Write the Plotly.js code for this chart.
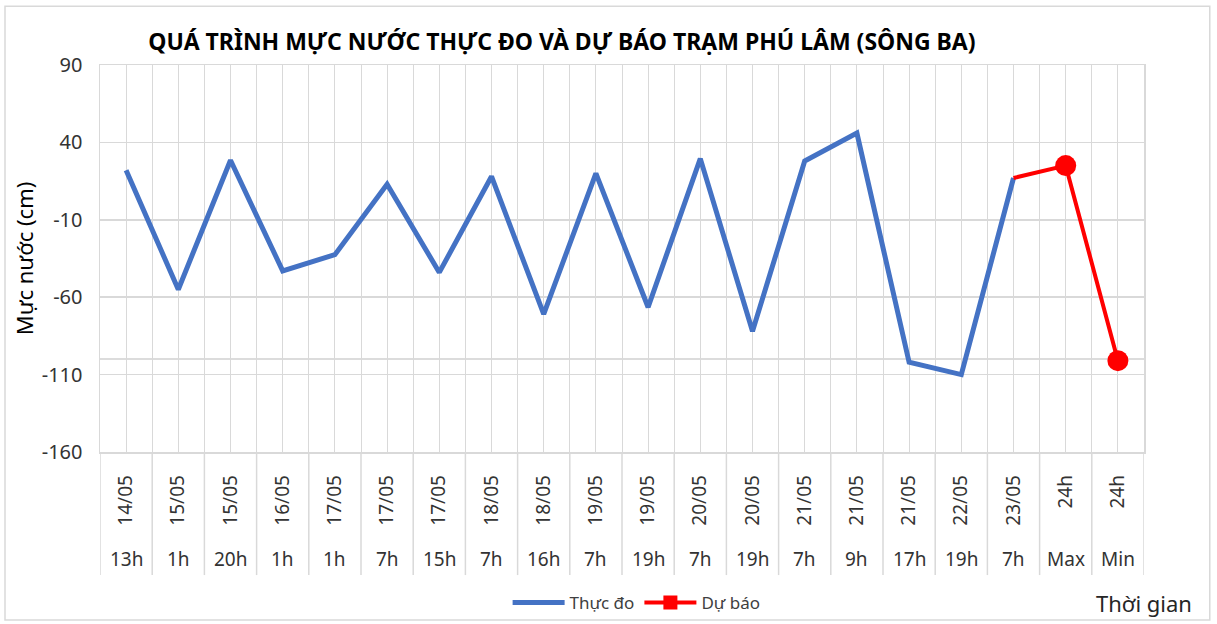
<!DOCTYPE html>
<html><head><meta charset="utf-8">
<script src="https://cdn.plot.ly/plotly-3.0.1.min.js"></script>
<style>html,body{margin:0;padding:0;background:#fff}</style>
</head><body><div id="chart" style="width:1217px;height:624px"></div>
<script>
const dates = ['14/05','15/05','15/05','16/05','17/05','17/05','17/05','18/05','18/05','19/05','19/05','20/05','20/05','21/05','21/05','21/05','22/05','23/05','24h','24h'];
const hours = ['13h','1h','20h','1h','1h','7h','15h','7h','16h','7h','19h','7h','19h','7h','9h','17h','19h','7h','Max','Min'];
const measured = [22,-55,28.5,-43,-32.5,13,-44,18,-71,20,-66.5,29.5,-82,28,46,-102,-110,17];
const forecast = [17,25,-101];
const yTicks = [-160,-110,-60,-10,40,90];
const alarmLevel = -100;

const FONT = 'Noto Sans, Open Sans, sans-serif';
const n = dates.length;
const idx = dates.map((_, i) => i);
const fStart = n - forecast.length;

const traces = [
  {x: measured.map((_, i) => i), y: measured, type: 'scatter', mode: 'lines', name: 'Thực đo',
   line: {color: '#4472C4', width: 5}},
  {x: forecast.map((_, i) => fStart + i), y: forecast, type: 'scatter', mode: 'lines+markers', name: 'Dự báo',
   line: {color: '#FF0000', width: 4},
   marker: {color: '#FF0000', opacity: 1, size: [0, 21, 21], symbol: ['square', 'circle', 'circle'],
     line: {width: 0}}}
];

const shapes = [];
for (let i = 0; i <= n; i++) {
  shapes.push({type: 'line', xref: 'x', yref: 'paper', x0: i - 0.5, x1: i - 0.5, y0: -0.318, y1: 0,
    line: {color: '#d9d9d9', width: 1.5}});
}
shapes.push({type: 'line', xref: 'paper', yref: 'y', x0: 0, x1: 1, y0: alarmLevel, y1: alarmLevel,
  line: {color: '#d0d0d0', width: 1.5}, layer: 'below'});
shapes.push({type: 'rect', xref: 'paper', yref: 'paper', x0: -0.091, x1: 1.063, y0: -0.434, y1: 1.152,
  line: {color: '#d9d9d9', width: 1.5}});

const annotations = hours.map((h, i) => ({
  x: i, xref: 'x', y: -0.2765, yref: 'paper', text: h, showarrow: false,
  font: {family: FONT, size: 19, color: '#333333'}, yanchor: 'middle'
}));
annotations.push({x: 1.0, xref: 'paper', y: -0.39, yref: 'paper', text: 'Thời gian', showarrow: false,
  xanchor: 'center', yanchor: 'middle', font: {family: FONT, size: 22, color: '#262626'}});

const layout = {
  width: 1217, height: 624,
  margin: {l: 100, r: 73, t: 65, b: 172, autoexpand: false},
  paper_bgcolor: '#ffffff', plot_bgcolor: '#ffffff',
  title: {text: '<b>QUÁ TRÌNH MỰC NƯỚC THỰC ĐO VÀ DỰ BÁO TRẠM PHÚ LÂM (SÔNG BA)</b>',
    font: {family: FONT, size: 23, color: '#000'}, x: 0.4425, xref: 'paper', xanchor: 'center',
    y: 1 - 42 / 624, yref: 'container', yanchor: 'middle'},
  xaxis: {range: [-0.5, n - 0.5], tickmode: 'array', tickvals: idx, ticktext: dates, tickangle: -90,
    tickfont: {family: FONT, size: 19, color: '#333333'}, ticks: '', ticklabelstandoff: 14,
    showgrid: true, gridcolor: '#d9d9d9', gridwidth: 1, zeroline: false, automargin: false,
    showline: true, linecolor: '#d9d9d9', linewidth: 1.5, mirror: true,
    minor: {tickmode: 'linear', tick0: -0.5, dtick: 1, showgrid: true, gridcolor: '#d9d9d9', gridwidth: 1, ticks: ''},
    fixedrange: true},
  yaxis: {range: [yTicks[0], yTicks[yTicks.length - 1]], tickmode: 'array', tickvals: yTicks,
    ticktext: yTicks.map(v => String(v)),
    tickfont: {family: FONT, size: 20, color: '#333333'}, ticks: '', ticklabelstandoff: 12,
    showgrid: true, gridcolor: '#d9d9d9', gridwidth: 1.5, zeroline: false, automargin: false,
    showline: true, linecolor: '#d9d9d9', linewidth: 1.5, mirror: true,
    title: {text: 'Mực nước (cm)', font: {family: FONT, size: 22, color: '#000'}, standoff: 2},
    fixedrange: true},
  showlegend: true,
  legend: {orientation: 'h', x: 0.514, xanchor: 'center', y: 1 - 603 / 624, yref: 'container', yanchor: 'middle',
    itemwidth: 52, font: {family: FONT, size: 17, color: '#404040'}, bgcolor: 'rgba(0,0,0,0)'},
  shapes: shapes,
  annotations: annotations
};

Plotly.newPlot('chart', traces, layout, {displayModeBar: false, staticPlot: true});
</script>
</body></html>
